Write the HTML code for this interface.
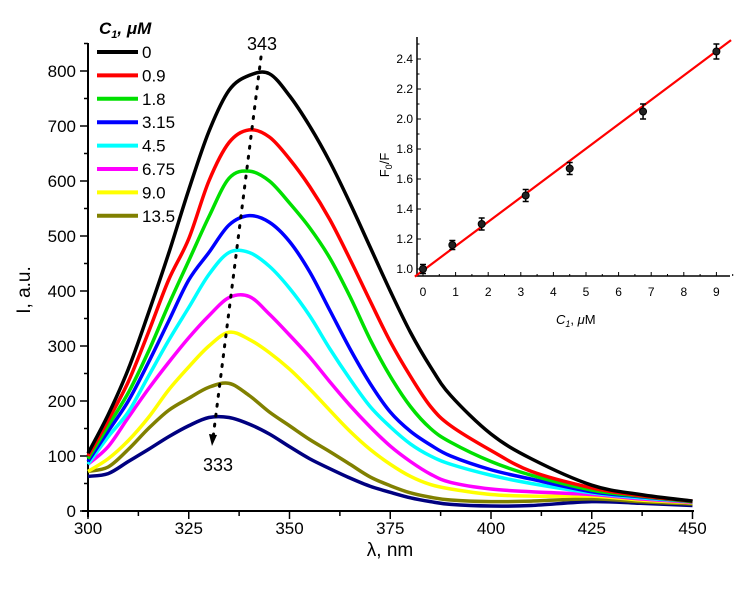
<!DOCTYPE html>
<html><head><meta charset="utf-8"><style>
body{margin:0;background:#fff}
svg{display:block;font-family:"Liberation Sans",sans-serif}
</style></head><body>
<svg id="chart" width="749" height="589" viewBox="0 0 749 589"></svg>
<script>
// Main chart data
const wavelengths = [300,305,310,315,320,325,330,335,340,345,350,355,360,365,370,375,380,385,390,400,410,425,437,450];
const seriesNames = ['0','0.9','1.8','3.15','4.5','6.75','9.0','13.5','extra'];
const seriesColors = ['#000000','#ff0000','#00e000','#0000ff','#00ffff','#ff00ff','#ffff00','#808000','#000080'];
const s0 = [105,175,258,360,468,584,690,765,792,795,755,700,635,560,480,400,325,262,210,140,95,47,30,18];
const s1 = [100,165,235,325,420,495,600,670,693,680,640,590,530,458,382,308,245,190,155,110,72,42,28,18];
const s2 = [95,155,215,290,375,455,535,605,618,600,560,515,460,390,312,245,190,150,125,90,65,38,27,17];
const s3 = [90,145,200,270,345,420,470,520,537,525,490,435,365,295,232,180,145,120,100,75,58,35,26,17];
const s4 = [85,135,180,245,310,370,430,470,470,445,405,355,295,240,190,153,122,100,85,65,50,33,24,17];
const s5 = [85,117,170,222,270,315,355,388,390,358,320,280,235,192,153,118,90,67,52,40,35,30,22,16];
const s6 = [72,95,128,170,220,262,300,325,312,288,258,222,183,145,112,85,63,48,40,30,27,27,20,15];
const s7 = [72,80,112,150,183,205,225,232,210,180,155,130,108,85,62,46,33,25,20,17,18,22,17,13];
const s8 = [63,68,90,112,135,155,170,170,158,140,117,95,77,60,45,34,24,17,12,9,10,17,14,10];
const allSeries = [s0,s1,s2,s3,s4,s5,s6,s7,s8];
const xTicks = [300,325,350,375,400,425,450];
const yTicks = [0,100,200,300,400,500,600,700,800];
// Inset data
const insetX = [0,0.9,1.8,3.15,4.5,6.75,9];
const insetY = [1.0,1.16,1.30,1.49,1.67,2.05,2.45];
const insetErr = [0.03,0.03,0.04,0.04,0.04,0.05,0.05];
const fitSlope = 0.1625;
const fitIntercept = 0.99;
const insetXTicks = [0,1,2,3,4,5,6,7,8,9];
const insetYTicks = [1.0,1.2,1.4,1.6,1.8,2.0,2.2,2.4];

const NS='http://www.w3.org/2000/svg';
const svg=document.getElementById('chart');
function mk(tag,attrs,parent){const e=document.createElementNS(NS,tag);for(const k in attrs)e.setAttribute(k,attrs[k]);(parent||svg).appendChild(e);return e;}
const X=l=>88+(l-300)*4.03;
const Y=v=>511-v*0.55;
// axes
let ax=mk('path',{d:'M88,43 V517 M82,511 H694',stroke:'#000','stroke-width':2,fill:'none'});


for(let v=0;v<=850;v+=50){mk('line',{x1:88,x2:v%100==0?80:84,y1:Y(v),y2:Y(v),stroke:'#000','stroke-width':1.5});}
yTicks.forEach(v=>{const t=mk('text',{x:76,y:Y(v)+6,'text-anchor':'end','font-size':17});t.textContent=v;

});
for(let l=300;l<=450;l+=12.5){mk('line',{x1:X(l),x2:X(l),y1:511,y2:(l-300)%25==0?519:516,stroke:'#000','stroke-width':1.5});}
xTicks.forEach(v=>{const t=mk('text',{x:X(v),y:534,'text-anchor':'middle','font-size':17});t.textContent=v;

});
let t=mk('text',{x:390,y:556,'text-anchor':'middle','font-size':19});t.textContent='λ, nm';


t=mk('text',{x:0,y:0,'text-anchor':'middle','font-size':19,transform:'translate(30,290) rotate(-90)'});t.textContent='I, a.u.';


// series
function smooth(pts){let d='M'+pts[0][0]+','+pts[0][1];for(let i=0;i<pts.length-1;i++){const p0=pts[i-1]||pts[i],p1=pts[i],p2=pts[i+1],p3=pts[i+2]||p2;
const c1=[p1[0]+(p2[0]-p0[0])/6,p1[1]+(p2[1]-p0[1])/6],c2=[p2[0]-(p3[0]-p1[0])/6,p2[1]-(p3[1]-p1[1])/6];
d+=' C'+c1.join(',')+' '+c2.join(',')+' '+p2.join(',');}return d;}
for(let k=allSeries.length-1;k>=0;k--){const pts=wavelengths.map((l,i)=>[X(l),Y(allSeries[k][i])]);
const p=mk('path',{d:smooth(pts),stroke:seriesColors[k],'stroke-width':3.5,fill:'none','stroke-linejoin':'round'});

}
// peak shift annotation
let dl=mk('line',{x1:261,y1:57,x2:213,y2:438,stroke:'#000','stroke-width':3,'stroke-dasharray':'2 8','stroke-linecap':'round'});


mk('path',{d:'M209,434 L217,435 L212,446 Z',fill:'#000'});
t=mk('text',{x:262,y:50,'text-anchor':'middle','font-size':18});t.textContent='343';


t=mk('text',{x:218,y:471,'text-anchor':'middle','font-size':18});t.textContent='333';


// legend
t=mk('text',{x:99,y:34,'font-size':17,'font-weight':'bold','font-style':'italic'});t.innerHTML='C<tspan font-size="11" dy="4">1</tspan><tspan dy="-4">, μM</tspan>';


for(let k=0;k<8;k++){const y=52+k*23.4;
const l=mk('line',{x1:97,x2:138,y1:y,y2:y,stroke:seriesColors[k],'stroke-width':4});


const tx=mk('text',{x:142,y:y+6,'font-size':17});tx.textContent=seriesNames[k];

}
// inset
const IX=v=>423+v*32.6;
const IY=v=>269-(v-1)*150;
ax=mk('path',{d:'M417,37 V276 H730',stroke:'#000','stroke-width':1.5,fill:'none'});


for(let v=0.95;v<=2.56;v+=0.05){const maj=Math.abs(Math.round(v*10)-v*10)<0.01&&Math.round(v*10)%2==0;const minor=Math.abs(Math.round(v*10)-v*10)<0.01;
if(!minor)continue;mk('line',{x1:417,x2:maj?421:419.5,y1:IY(v),y2:IY(v),stroke:'#000','stroke-width':1});}
insetYTicks.forEach(v=>{const tx=mk('text',{x:413,y:IY(v)+4,'text-anchor':'end','font-size':12});tx.textContent=v.toFixed(1);

});
for(let v=0;v<=9.5;v+=0.5){mk('line',{x1:IX(v),x2:IX(v),y1:276,y2:v%1==0?272:274,stroke:'#000','stroke-width':1});}
insetXTicks.forEach(v=>{const tx=mk('text',{x:IX(v),y:296,'text-anchor':'middle','font-size':12});tx.textContent=v;

});
t=mk('text',{x:556,y:324,'font-size':13,'font-style':'italic'});t.innerHTML='C<tspan font-size="9" dy="3">1</tspan><tspan dy="-3" font-style="normal">, </tspan><tspan font-style="italic">μ</tspan><tspan font-style="normal">M</tspan>';


t=mk('text',{x:0,y:0,'font-size':13,'text-anchor':'middle',transform:'translate(389,165) rotate(-90)'});t.innerHTML='F<tspan font-size="9" dy="3">0</tspan><tspan dy="-3">/F</tspan>';


let fl=mk('line',{x1:IX(-0.25),y1:IY(fitIntercept+fitSlope*-0.25),x2:IX(9.45),y2:IY(fitIntercept+fitSlope*9.45),stroke:'#ff0000','stroke-width':2.2});


insetX.forEach((x,i)=>{const cx=IX(x),cy=IY(insetY[i]),e=insetErr[i]*150;
const g=mk('g',{});


mk('path',{d:`M${cx},${cy-e} V${cy+e} M${cx-3},${cy-e} H${cx+3} M${cx-3},${cy+e} H${cx+3}`,stroke:'#000','stroke-width':1.5,fill:'none'},g);
mk('circle',{cx:cx,cy:cy,r:3.5,fill:'#222',stroke:'#000'},g);});
</script>
</body></html>
